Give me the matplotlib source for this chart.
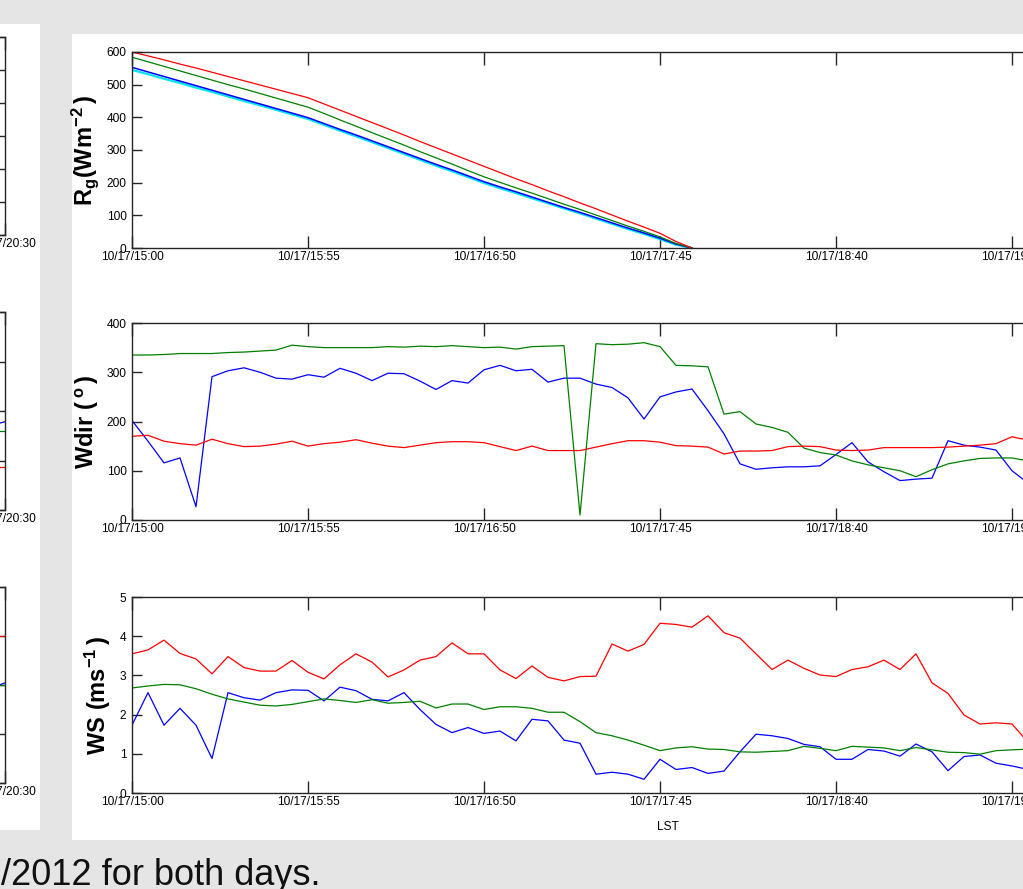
import matplotlib

matplotlib.use("Agg")
import matplotlib.pyplot as plt
from matplotlib.font_manager import FontProperties
from matplotlib.patches import Rectangle

W, H = 1023, 889

# sample times (LST, 10/17/2012), 5-min data
TIMES = ["15:00", "15:05", "15:10", "15:15", "15:20", "15:25", "15:30", "15:35", "15:40", "15:45",
         "15:50", "15:55", "16:00", "16:05", "16:10", "16:15", "16:20", "16:25", "16:30", "16:35",
         "16:40", "16:45", "16:50", "16:55", "17:00", "17:05", "17:10", "17:15", "17:20", "17:25",
         "17:30", "17:35", "17:40", "17:45", "17:50", "17:55", "18:00", "18:05", "18:10", "18:15",
         "18:20", "18:25", "18:30", "18:35", "18:40", "18:45", "18:50", "18:55", "19:00", "19:05",
         "19:10", "19:15", "19:20", "19:25", "19:30", "19:35", "19:40"]

# global radiation, until sunset
RG_RED = [600, 588, 576, 563, 551, 538, 525, 512, 499, 486, 473, 460, 441, 422, 403, 384, 365, 346,
          326, 307, 288, 269, 250, 231, 212, 194, 175, 157, 138, 120, 101, 82, 64, 45, 20, 0]
RG_GREEN = [584, 570, 556, 542, 528, 514, 500, 487, 473, 459, 445, 431, 412, 392, 373, 353, 334, 315,
            295, 276, 257, 237, 218, 201, 184, 168, 151, 134, 118, 101, 84, 67, 51, 34, 14, 0]
RG_BLUE = [553, 539, 525, 511, 497, 483, 469, 455, 441, 427, 413, 399, 381, 363, 346, 328, 310, 292,
           274, 256, 239, 221, 203, 187, 172, 156, 140, 124, 109, 93, 77, 61, 46, 30, 12, 0]
RG_CYAN = [545, 532, 518, 505, 491, 478, 464, 450, 437, 423, 409, 395, 377, 359, 342, 324, 306, 288,
           270, 252, 235, 217, 199, 183, 168, 152, 137, 121, 106, 90, 74, 58, 43, 27, 10, 0]

WDIR_BLUE = [202, 160, 116, 126, 27, 291, 303, 309, 300, 288, 286, 295, 290, 308, 298, 283, 298, 297,
             282, 265, 283, 278, 305, 314, 303, 306, 280, 288, 288, 276, 269, 248, 205, 250, 260, 266,
             222, 175, 114, 103, 106, 108, 108, 110, 133, 157, 118, 98, 80, 83, 85, 161, 152, 148,
             142, 100, 75]
WDIR_GREEN = [335, 335, 336, 338, 338, 338, 340, 341, 343, 345, 355, 352, 350, 350, 350, 350, 352, 351,
              353, 352, 354, 352, 350, 351, 347, 352, 353, 354, 10, 358, 356, 357, 360, 352, 314, 313,
              311, 215, 220, 195, 188, 178, 146, 137, 132, 120, 112, 106, 100, 88, 102, 114, 120, 125,
              126, 126, 120]
WDIR_RED = [170, 172, 160, 155, 152, 164, 155, 149, 150, 154, 160, 150, 155, 158, 163, 156, 150, 147,
            152, 157, 159, 159, 157, 149, 141, 150, 141, 141, 141, 148, 155, 161, 161, 158, 151, 150,
            148, 134, 140, 140, 141, 149, 150, 149, 142, 141, 142, 147, 147, 147, 147, 148, 150, 152,
            155, 169, 162]

WS_RED = [3.55, 3.65, 3.90, 3.56, 3.42, 3.04, 3.48, 3.20, 3.11, 3.11, 3.38, 3.08, 2.91, 3.27, 3.55,
          3.34, 2.96, 3.14, 3.39, 3.48, 3.83, 3.55, 3.55, 3.14, 2.92, 3.24, 2.95, 2.86, 2.97, 2.98,
          3.80, 3.62, 3.79, 4.33, 4.30, 4.23, 4.52, 4.09, 3.95, 3.55, 3.15, 3.39, 3.18, 3.01, 2.97,
          3.15, 3.22, 3.39, 3.15, 3.55, 2.81, 2.54, 1.99, 1.76, 1.79, 1.76, 1.30]
WS_GREEN = [2.68, 2.73, 2.77, 2.76, 2.66, 2.52, 2.40, 2.32, 2.24, 2.22, 2.26, 2.33, 2.40, 2.36, 2.31,
            2.38, 2.29, 2.31, 2.34, 2.17, 2.27, 2.27, 2.13, 2.20, 2.20, 2.16, 2.06, 2.06, 1.82, 1.54,
            1.46, 1.35, 1.22, 1.08, 1.15, 1.18, 1.12, 1.11, 1.05, 1.04, 1.06, 1.08, 1.19, 1.14, 1.08,
            1.19, 1.17, 1.15, 1.08, 1.16, 1.10, 1.04, 1.03, 0.99, 1.08, 1.10, 1.12]
WS_BLUE = [1.73, 2.56, 1.73, 2.16, 1.73, 0.88, 2.56, 2.43, 2.37, 2.56, 2.63, 2.62, 2.35, 2.70, 2.61,
           2.39, 2.35, 2.56, 2.13, 1.75, 1.54, 1.67, 1.52, 1.58, 1.33, 1.88, 1.84, 1.35, 1.27, 0.48,
           0.53, 0.48, 0.35, 0.86, 0.60, 0.65, 0.50, 0.56, 1.05, 1.50, 1.46, 1.39, 1.24, 1.18, 0.86,
           0.86, 1.11, 1.07, 0.94, 1.25, 1.05, 0.57, 0.93, 0.97, 0.76, 0.69, 0.60]

# the neighbouring (other day) figure, only its last samples are in view
LEFT_TIMES = ["20:25", "20:30"]
LEFT_WDIR = {"b": [170, 178], "g": [160, 160], "r": [87, 87]}
LEFT_WS = {"r": [3.0, 3.0], "b": [1.92, 2.04], "g": [2.0, 2.0]}

XTICKS = ["15:00", "15:55", "16:50", "17:45", "18:40", "19:35", "20:30"]

RED, GREEN, BLUE, CYAN = "#ff0000", "#008000", "#0000ff", "#00e5ee"
COLORS = {"r": RED, "g": GREEN, "b": BLUE}
SPINE = "#262626"
BG = "#e5e5e5"

TICK_FP = FontProperties(family="Liberation Sans", size=8.6)

plt.rcParams["mathtext.fontset"] = "custom"
plt.rcParams["mathtext.rm"] = "Liberation Sans:bold"
plt.rcParams["mathtext.it"] = "Liberation Sans:bold"
plt.rcParams["mathtext.bf"] = "Liberation Sans:bold"
plt.rcParams["mathtext.default"] = "rm"


def minutes(t):
    h, m = t.split(":")
    return (int(h) - 15) * 60 + int(m)


def px_axes(fig, x0, y0, x1, y1):
    return fig.add_axes([x0 / W, 1 - y1 / H, (x1 - x0) / W, (y1 - y0) / H])


def style(ax, ylim, yticks, show_ylabels=True):
    ax.set_xlim(0, 330)
    ax.set_ylim(*ylim)
    ax.set_xticks([minutes(t) for t in XTICKS])
    ax.set_xticklabels(["10/17/" + t for t in XTICKS])
    ax.set_yticks(yticks)
    if not show_ylabels:
        ax.set_yticklabels([])
    for s in ax.spines.values():
        s.set_color(SPINE)
        s.set_linewidth(1.0)
    ax.tick_params(axis="x", direction="in", length=9, width=1.0, color=SPINE, top=True,
                   pad=2.5, labelcolor="black")
    ax.tick_params(axis="y", direction="in", length=7, width=1.0, color=SPINE, right=True,
                   pad=4, labelcolor="black")
    for lbl in ax.get_xticklabels() + ax.get_yticklabels():
        lbl.set_fontproperties(TICK_FP)
    ax.set_facecolor("none")


fig = plt.figure(figsize=(W / 100, H / 100), dpi=100, facecolor=BG)

# white slide panels
fig.add_artist(Rectangle((-10 / W, 1 - 830 / H), 50 / W, 806 / H, transform=fig.transFigure,
                         fc="white", ec="none", zorder=-5))
fig.add_artist(Rectangle((72 / W, 1 - 840 / H), 1000 / W, 806 / H, transform=fig.transFigure,
                         fc="white", ec="none", zorder=-5))

t_all = [minutes(t) for t in TIMES]
t_rg = t_all[:len(RG_RED)]

ax1 = px_axes(fig, 132, 52, 1188, 248)
ax1.plot(t_rg, RG_CYAN, color=CYAN, lw=1.6)
ax1.plot(t_rg, RG_BLUE, color=BLUE, lw=1.1)
ax1.plot(t_rg, RG_GREEN, color=GREEN, lw=0.9)
ax1.plot(t_rg, RG_RED, color=RED, lw=0.9)
style(ax1, (0, 600), range(0, 601, 100))
ax1.set_ylabel(r"$R_g(Wm^{-2}\,)$", fontsize=17)
ax1.yaxis.set_label_coords((101 - 132) / 1056, 0.5)

ax2 = px_axes(fig, 132, 323, 1188, 520)
ax2.plot(t_all, WDIR_BLUE, color=BLUE, lw=0.9)
ax2.plot(t_all, WDIR_GREEN, color=GREEN, lw=0.9)
ax2.plot(t_all, WDIR_RED, color=RED, lw=0.9)
style(ax2, (0, 400), range(0, 401, 100))
ax2.set_ylabel(r"$Wdir\ (\,^{o}\,)$", fontsize=17)
ax2.yaxis.set_label_coords((101 - 132) / 1056, 0.5)

ax3 = px_axes(fig, 132, 597, 1188, 793)
ax3.plot(t_all, WS_BLUE, color=BLUE, lw=0.9)
ax3.plot(t_all, WS_GREEN, color=GREEN, lw=0.9)
ax3.plot(t_all, WS_RED, color=RED, lw=0.9)
style(ax3, (0, 5), range(0, 6))
ax3.set_ylabel(r"$WS\ (ms^{-1}\,)$", fontsize=17)
ax3.yaxis.set_label_coords((113 - 132) / 1056, 0.5)
ax3.set_xlabel("LST", fontproperties=TICK_FP)
ax3.xaxis.set_label_coords((668 - 132) / 1056, (793 - 821) / 196)

# partial axes of the left (other day) figure
t_left = [minutes(t) for t in LEFT_TIMES]
la = px_axes(fig, 4.5 - 1056, 37, 4.5, 235)
style(la, (0, 600), range(0, 601, 100), show_ylabels=False)
lb = px_axes(fig, 4.5 - 1056, 312, 4.5, 510)
for c, vals in LEFT_WDIR.items():
    lb.plot(t_left, vals, color=COLORS[c], lw=0.9)
style(lb, (0, 400), range(0, 401, 100), show_ylabels=False)
lc = px_axes(fig, 4.5 - 1056, 587, 4.5, 783)
for c, vals in LEFT_WS.items():
    lc.plot(t_left, vals, color=COLORS[c], lw=0.9)
style(lc, (0, 4), range(0, 5), show_ylabels=False)

fig.text(1 / W, 1 - 885 / H, "/2012 for both days.", fontsize=26, family="Liberation Sans",
         va="baseline", ha="left", color="#111111")

fig.savefig("out.png", dpi=100, facecolor=BG)
